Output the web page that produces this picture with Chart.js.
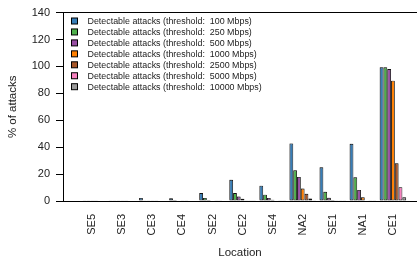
<!DOCTYPE html>
<html>
<head>
<meta charset="utf-8">
<script src="https://cdn.jsdelivr.net/npm/chart.js@4/dist/chart.umd.min.js"></script>
<style>
html,body{margin:0;padding:0;background:#fff;overflow:hidden;}
canvas{display:block;}
</style>
</head>
<body>
<canvas id="c" width="417" height="267"></canvas>
<script>
const categories = ['SE5','SE3','CE3','CE4','SE2','CE2','SE4','NA2','SE1','NA1','CE1'];
const seriesLabels = [
  'Detectable attacks (threshold:  100 Mbps)',
  'Detectable attacks (threshold:  250 Mbps)',
  'Detectable attacks (threshold:  500 Mbps)',
  'Detectable attacks (threshold:  1000 Mbps)',
  'Detectable attacks (threshold:  2500 Mbps)',
  'Detectable attacks (threshold:  5000 Mbps)',
  'Detectable attacks (threshold:  10000 Mbps)'
];
const t100   = [0.3, 0.6, 2.3, 2.0, 5.9, 15.8, 11.4, 42.8, 25.0, 42.5, 99.3];
const t250   = [0.2, 0.2, 0.5, 0.7, 2.3, 5.9, 4.7, 22.8, 6.8, 17.6, 99.3];
const t500   = [0.1, 0.1, 0.2, 0.3, 0.8, 3.3, 2.3, 17.9, 2.4, 8.2, 98.0];
const t1000  = [0.1, 0.1, 0.1, 0.2, 0.3, 1.6, 1.0, 9.3, 0.8, 2.7, 89.4];
const t2500  = [0.1, 0.1, 0.1, 0.1, 0.2, 0.5, 0.3, 5.4, 0.5, 0.4, 28.0];
const t5000  = [0.0, 0.0, 0.0, 0.0, 0.1, 0.2, 0.1, 1.8, 0.2, 0.2, 10.3];
const t10000 = [0.0, 0.0, 0.0, 0.0, 0.0, 0.1, 0.1, 0.5, 0.1, 0.2, 2.7];
const yTicks = [0, 20, 40, 60, 80, 100, 120, 140];
const colors = ['#377eb8','#4daf4a','#984ea3','#ff7f00','#a65628','#f781bf','#999999'];

const allSeries = [t100, t250, t500, t1000, t2500, t5000, t10000];
const FONT = '"Liberation Sans", Arial, Helvetica, sans-serif';

const datasets = allSeries.map((vals, k) => ({
  label: seriesLabels[k],
  data: vals.map((v, i) => ({x: i, y: v})),
  backgroundColor: colors[k],
  borderColor: '#111',
  borderWidth: 0.9,
  borderSkipped: false,
  categoryPercentage: 0.88,
  barPercentage: 1.0
}));

const shadowPlugin = {
  id: 'shadow',
  beforeDatasetsDraw(chart) {
    const ctx = chart.ctx;
    ctx.save();
    ctx.shadowColor = 'rgba(0,0,0,0.22)';
    ctx.shadowOffsetX = -1;
    ctx.shadowOffsetY = -1;
    ctx.shadowBlur = 1;
  },
  afterDatasetsDraw(chart) {
    chart.ctx.restore();
  }
};

const legendPlugin = {
  id: 'insideLegend',
  afterDraw(chart) {
    const ctx = chart.ctx;
    ctx.save();
    ctx.font = '8.9px ' + FONT;
    ctx.textBaseline = 'middle';
    ctx.textAlign = 'left';
    chart.data.datasets.forEach((ds, k) => {
      const y = 21 + k * 10.95;
      ctx.fillStyle = ds.backgroundColor;
      ctx.fillRect(71.5, y - 3, 6, 6);
      ctx.strokeStyle = '#000';
      ctx.lineWidth = 1;
      ctx.strokeRect(71.5, y - 3, 6, 6);
      ctx.fillStyle = '#222';
      ctx.fillText(ds.label, 87.5, y + 0.5);
    });
    ctx.restore();
  }
};

new Chart(document.getElementById('c'), {
  type: 'bar',
  data: { datasets },
  plugins: [shadowPlugin, legendPlugin],
  options: {
    responsive: false,
    animation: false,
    devicePixelRatio: 1,
    layout: { padding: { top: 8, right: 0, bottom: 0, left: 0 } },
    plugins: { legend: { display: false }, tooltip: { enabled: false } },
    scales: {
      x: {
        type: 'linear',
        offset: false,
        min: -0.97,
        max: 10.8,
        afterFit: s => { s.height = 66; },
        afterBuildTicks: s => { s.ticks = categories.map((_, i) => ({ value: i })); },
        grid: { display: false },
        border: { display: true, color: '#000', width: 1 },
        ticks: {
          autoSkip: false,
          minRotation: 90,
          maxRotation: 90,
          padding: 5,
          color: '#222',
          font: { family: FONT, size: 11 },
          callback: v => categories[v]
        },
        title: {
          display: true,
          text: 'Location',
          color: '#222',
          font: { family: FONT, size: 11.5 },
          padding: { top: 0, bottom: 7 }
        }
      },
      y: {
        min: 0,
        max: 140,
        afterFit: s => { s.width = 63; },
        afterBuildTicks: s => { s.ticks = yTicks.map(v => ({ value: v })); },
        grid: {
          display: true,
          drawOnChartArea: true,
          color: c => (c.tick && c.tick.value === 140) ? '#000' : 'rgba(0,0,0,0)',
          tickColor: '#000',
          tickLength: 7,
          lineWidth: 1
        },
        border: { display: true, color: '#000', width: 1 },
        ticks: {
          padding: 6,
          color: '#222',
          font: { family: FONT, size: 11 }
        },
        title: {
          display: true,
          text: '% of attacks',
          color: '#222',
          font: { family: FONT, size: 11.5 },
          padding: { top: 6, bottom: 4 }
        }
      }
    }
  }
});
</script>
</body>
</html>
